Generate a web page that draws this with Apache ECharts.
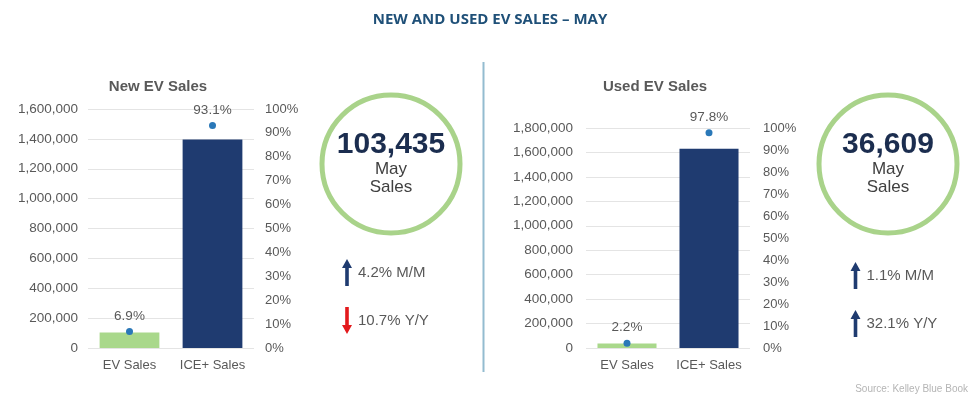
<!DOCTYPE html>
<html>
<head>
<meta charset="utf-8">
<script src="https://cdn.jsdelivr.net/npm/echarts@6/dist/echarts.min.js"></script>
<style>
  html, body { margin: 0; padding: 0; background: #fff; }
  #chart { width: 980px; height: 399px; }
</style>
</head>
<body>
<div id="chart"></div>
<script>
// data
const categories = ['EV Sales', 'ICE+ Sales']
const newSales = [103435, 1395623]
const newShare = [6.9, 93.1]
const usedSales = [36609, 1630000]
const usedShare = [2.2, 97.8]
const newTotal = '103,435'
const usedTotal = '36,609'
const newChanges = [{ dir: 'up', text: '4.2% M/M' }, { dir: 'down', text: '10.7% Y/Y' }]
const usedChanges = [{ dir: 'up', text: '1.1% M/M' }, { dir: 'up', text: '32.1% Y/Y' }]

const FONT = '"Liberation Sans", Arial, sans-serif'
const GRAY = '#595959'
const barColors = ['#a9d88b', '#1f3b70']

let chart = echarts.init(document.getElementById('chart'))

function xAxisFor (gridIndex) {
  return {
    type: 'category',
    gridIndex: gridIndex,
    data: categories,
    axisTick: { show: false },
    axisLine: { show: false },
    axisLabel: { interval: 0, color: GRAY, fontSize: 13, fontFamily: FONT, margin: 11 }
  }
}

function countAxis (gridIndex, max, interval, margin) {
  return {
    type: 'value',
    gridIndex: gridIndex,
    position: 'left',
    min: 0,
    max: max,
    interval: interval,
    axisLine: { show: false },
    axisTick: { show: false },
    splitLine: { lineStyle: { color: '#e4e4e4' } },
    axisLabel: {
      color: GRAY,
      fontSize: 13.5,
      fontFamily: FONT,
      margin: margin,
      formatter: v => v.toLocaleString('en-US')
    }
  }
}

function shareAxis (gridIndex, margin) {
  return {
    type: 'value',
    gridIndex: gridIndex,
    position: 'right',
    min: 0,
    max: 100,
    interval: 10,
    axisLine: { show: false },
    axisTick: { show: false },
    splitLine: { show: false },
    axisLabel: { color: GRAY, fontSize: 13, fontFamily: FONT, margin: margin, formatter: '{value}%' }
  }
}

function barSeries (xi, yi, values) {
  return {
    type: 'bar',
    xAxisIndex: xi,
    yAxisIndex: yi,
    barWidth: '72%',
    data: values.map((v, i) => ({ value: v, itemStyle: { color: barColors[i] } })),
    silent: true
  }
}

function dotSeries (xi, yi, values) {
  return {
    type: 'scatter',
    xAxisIndex: xi,
    yAxisIndex: yi,
    symbolSize: 7,
    itemStyle: { color: '#2a78b8', opacity: 1 },
    data: values,
    label: {
      show: true,
      position: 'top',
      distance: 5,
      color: GRAY,
      fontSize: 13.5,
      fontFamily: FONT,
      opacity: 1,
      formatter: p => p.value.toFixed(1) + '%'
    },
    z: 5
  }
}

// up / down arrow drawn as a polygon
function arrow (cx, top, h, dir, color) {
  let hw = 5, sw = 1.8, hh = 9
  let pts
  if (dir === 'up') {
    pts = [[cx, top], [cx + hw, top + hh], [cx + sw, top + hh], [cx + sw, top + h],
      [cx - sw, top + h], [cx - sw, top + hh], [cx - hw, top + hh]]
  } else {
    let b = top + h
    pts = [[cx, b], [cx + hw, b - hh], [cx + sw, b - hh], [cx + sw, top],
      [cx - sw, top], [cx - sw, b - hh], [cx - hw, b - hh]]
  }
  return { type: 'polygon', shape: { points: pts }, style: { fill: color } }
}

function summary (cx, cy, total, changes, arrowX, rowsY) {
  let els = [
    { type: 'circle', shape: { cx: cx, cy: cy, r: 69 }, style: { fill: '#fff', stroke: '#a9d38a', lineWidth: 5 } },
    { type: 'text', x: cx, y: cy - 19, style: { text: total, fill: '#1b2d4f', font: 'bold 30px ' + FONT, align: 'center', verticalAlign: 'middle' } },
    { type: 'text', x: cx, y: cy + 5, style: { text: 'May', fill: '#404040', font: '17px ' + FONT, align: 'center', verticalAlign: 'middle' } },
    { type: 'text', x: cx, y: cy + 23, style: { text: 'Sales', fill: '#404040', font: '17px ' + FONT, align: 'center', verticalAlign: 'middle' } }
  ]
  changes.forEach((c, i) => {
    let y = rowsY[i]
    let color = c.dir === 'up' ? '#1f3b70' : '#e3191c'
    els.push(arrow(arrowX, y - 13, 27, c.dir, color))
    els.push({ type: 'text', x: arrowX + 11, y: y + 1, style: { text: c.text, fill: GRAY, font: '15px ' + FONT, verticalAlign: 'middle' } })
  })
  return els
}

let graphics = [
  { type: 'text', x: 490, y: 20, style: { text: 'NEW AND USED EV SALES \u2013 MAY', fill: '#1f5078', font: 'bold 15px "Open Sans", ' + FONT, align: 'center', verticalAlign: 'middle' } },
  { type: 'text', x: 158, y: 87, style: { text: 'New EV Sales', fill: GRAY, font: 'bold 15px ' + FONT, align: 'center', verticalAlign: 'middle' } },
  { type: 'text', x: 655, y: 87, style: { text: 'Used EV Sales', fill: GRAY, font: 'bold 15px ' + FONT, align: 'center', verticalAlign: 'middle' } },
  { type: 'line', shape: { x1: 483.5, y1: 62, x2: 483.5, y2: 372 }, style: { stroke: '#93bcd0', lineWidth: 2 } },
  { type: 'text', x: 968, y: 389, style: { text: 'Source: Kelley Blue Book', fill: '#b5b5b5', font: '10px ' + FONT, align: 'right', verticalAlign: 'middle' } }
]
graphics = graphics.concat(summary(391, 164, newTotal, newChanges, 347, [272, 320]))
graphics = graphics.concat(summary(888, 164, usedTotal, usedChanges, 855.5, [275, 323]))

chart.setOption({
  animation: false,
  grid: [
    { left: 88, right: 726, top: 109, bottom: 51 },
    { left: 586, right: 230, top: 128, bottom: 51 }
  ],
  xAxis: [xAxisFor(0), xAxisFor(1)],
  yAxis: [
    countAxis(0, 1600000, 200000, 10),
    shareAxis(0, 11),
    countAxis(1, 1800000, 200000, 13),
    shareAxis(1, 13)
  ],
  series: [
    barSeries(0, 0, newSales),
    dotSeries(0, 1, newShare),
    barSeries(1, 2, usedSales),
    dotSeries(1, 3, usedShare)
  ],
  graphic: graphics
})
</script>
</body>
</html>
